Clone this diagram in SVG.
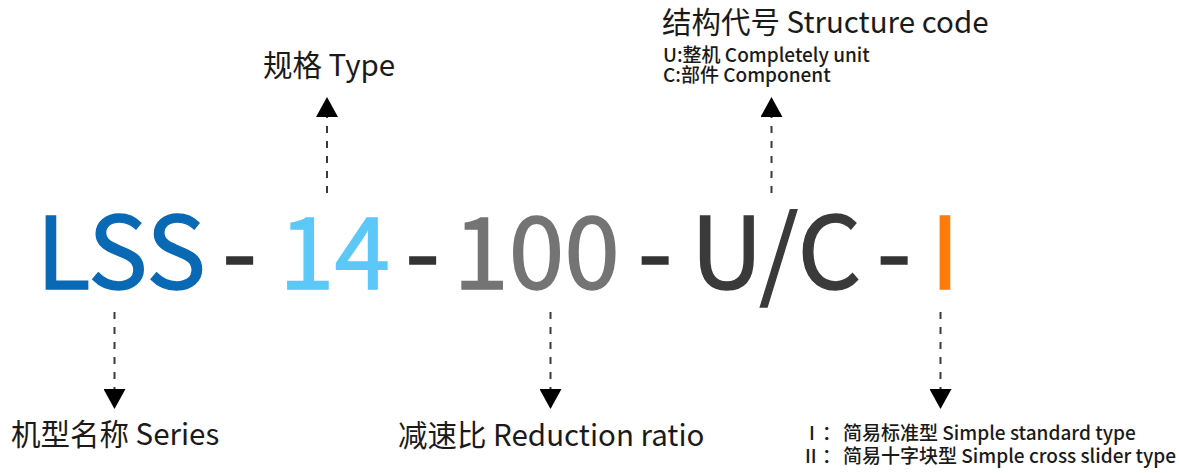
<svg xmlns="http://www.w3.org/2000/svg" width="1179" height="473" viewBox="0 0 1179 473">
<defs>
<style>
text{font-family:"Noto Sans CJK SC","Noto Sans",sans-serif;}
.big{font-size:100px;text-anchor:middle;stroke-width:1.4;}
.lbl{font-size:29.5px;fill:#1a1a1a;}
.sub{font-size:19px;fill:#1a1a1a;font-weight:500;}
.dash{stroke:#3a3a3a;stroke-width:2;stroke-dasharray:7 8;fill:none;}
</style>
<marker id="arr" viewBox="0 0 20 22" markerWidth="20" markerHeight="22" refX="0" refY="11" orient="auto" markerUnits="userSpaceOnUse">
<path d="M0,0 L20,11 L0,22 Z" fill="#000"/>
</marker>
</defs>
<rect width="1179" height="473" fill="#fff"/>
<g id="code">
<text class="big" x="121" y="289" fill="#0a69b5" stroke="#0a69b5">LSS</text>
<text class="big" x="239.5" y="289" fill="#333" stroke="#333">-</text>
<text class="big" x="334.5" y="289" fill="#5cc8f7" stroke="#5cc8f7">14</text>
<text class="big" x="422.5" y="289" fill="#333" stroke="#333">-</text>
<text class="big" x="536.5" y="289" fill="#747474" stroke="#747474">100</text>
<text class="big" x="655" y="289" fill="#333" stroke="#333">-</text>
<text class="big" x="776" y="289" fill="#3a3a3a" stroke="#3a3a3a">U/C</text>
<text class="big" x="894" y="289" fill="#333" stroke="#333">-</text>
<text class="big" x="945" y="289" fill="#ff7b0a" stroke="#ff7b0a">I</text>
</g>
<g id="type-label">
<text class="lbl" x="263" y="76">规格 Type</text>
</g>
<g id="structure-label">
<text class="lbl" x="662" y="33">结构代号 Structure code</text>
<text class="sub" x="663" y="62">U:整机 Completely unit</text>
<text class="sub" x="663" y="82">C:部件 Component</text>
</g>
<g id="series-label">
<text class="lbl" x="11" y="445">机型名称 Series</text>
</g>
<g id="ratio-label">
<text class="lbl" x="398" y="446">减速比 Reduction ratio</text>
</g>
<g id="type-option-label">
<text class="sub" y="440"><tspan x="809">I</tspan><tspan x="822">：</tspan><tspan x="843">简易标准型 Simple standard type</tspan></text>
<text class="sub" y="463"><tspan x="805">II</tspan><tspan x="822">：</tspan><tspan x="843">简易十字块型 Simple cross slider type</tspan></text>
</g>
<g id="connectors">
<line class="dash" x1="327" y1="193" x2="327" y2="117" marker-end="url(#arr)"/>
<line class="dash" x1="771.5" y1="193" x2="771.5" y2="117" marker-end="url(#arr)"/>
<line class="dash" x1="114.5" y1="312" x2="114.5" y2="389" marker-end="url(#arr)"/>
<line class="dash" x1="550.5" y1="312" x2="550.5" y2="389" marker-end="url(#arr)"/>
<line class="dash" x1="940.5" y1="312" x2="940.5" y2="389" marker-end="url(#arr)"/>
</g>
</svg>
